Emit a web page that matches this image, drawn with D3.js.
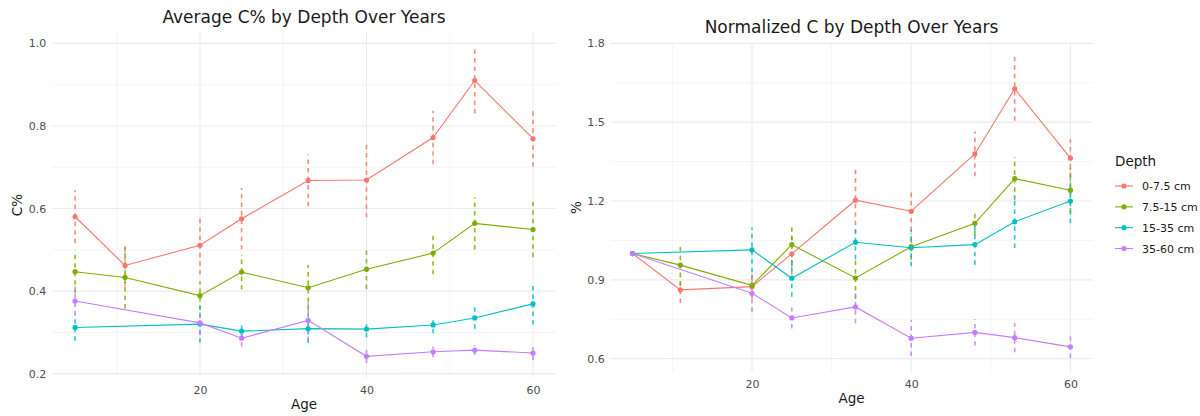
<!DOCTYPE html>
<html>
<head>
<meta charset="utf-8">
<script src="https://cdn.jsdelivr.net/npm/d3@7"></script>
<style>
  html, body { margin: 0; padding: 0; background: #fff; }
  svg { display: block; font-family: "DejaVu Sans", sans-serif; }
</style>
</head>
<body>
<svg id="chart" width="1200" height="416"></svg>
<script>
// Depth classes and their colours
const depths = ["0-7.5 cm", "7.5-15 cm", "15-35 cm", "35-60 cm"];
const depthColors = ["#F8766D", "#7CAE00", "#00BFC4", "#C77CFF"];

// Sampling ages (years); the two deeper layers were not sampled at age 11
const agesShallow = [5, 11, 20, 25, 33, 40, 48, 53, 60];
const agesDeep = [5, 20, 25, 33, 40, 48, 53, 60];

// Average C% per depth, with error (half-width of the dashed bars)
const avgC_0_7 = [0.580, 0.462, 0.511, 0.575, 0.668, 0.669, 0.772, 0.910, 0.769];
const avgErr_0_7 = [0.064, 0.050, 0.070, 0.074, 0.063, 0.090, 0.065, 0.080, 0.068];
const avgC_7_15 = [0.447, 0.433, 0.389, 0.446, 0.408, 0.453, 0.492, 0.564, 0.549];
const avgErr_7_15 = [0.052, 0.075, 0.035, 0.042, 0.055, 0.048, 0.051, 0.063, 0.067];
const avgC_15_35 = [0.312, 0.320, 0.303, 0.309, 0.308, 0.318, 0.335, 0.369];
const avgErr_15_35 = [0.032, 0.045, 0.018, 0.035, 0.020, 0.020, 0.026, 0.050];
const avgC_35_60 = [0.376, 0.323, 0.286, 0.329, 0.242, 0.253, 0.257, 0.250];
const avgErr_35_60 = [0.035, 0.030, 0.020, 0.050, 0.016, 0.013, 0.012, 0.017];

// C normalised to the first sampling, per depth
const normC_0_7 = [1.000, 0.862, 0.874, 0.999, 1.203, 1.161, 1.379, 1.627, 1.363];
const normErr_0_7 = [0, 0.050, 0.045, 0.078, 0.128, 0.075, 0.085, 0.122, 0.072];
const normC_7_15 = [1.000, 0.956, 0.879, 1.034, 0.907, 1.026, 1.115, 1.285, 1.241];
const normErr_7_15 = [0, 0.078, 0.040, 0.080, 0.080, 0.050, 0.045, 0.082, 0.085];
const normC_15_35 = [1.000, 1.014, 0.906, 1.043, 1.022, 1.034, 1.121, 1.200];
const normErr_15_35 = [0, 0.085, 0.070, 0.065, 0.070, 0.077, 0.100, 0.085];
const normC_35_60 = [1.000, 0.849, 0.755, 0.797, 0.678, 0.700, 0.680, 0.645];
const normErr_35_60 = [0, 0.070, 0.040, 0.062, 0.068, 0.050, 0.056, 0.042];

// Axis breaks
const xBreaks = [20, 40, 60];
const xMinor = [10, 30, 50];
const avgBreaks = [0.2, 0.4, 0.6, 0.8, 1.0];
const avgMinor = [0.3, 0.5, 0.7, 0.9];
const normBreaks = [0.6, 0.9, 1.2, 1.5, 1.8];
const normMinor = [0.75, 1.05, 1.35, 1.65];

function build(ageList, vals, errs) {
  return vals.map((v, i) => ({ age: ageList[i], v: v, e: errs[i] }));
}

const avgSeries = [
  build(agesShallow, avgC_0_7, avgErr_0_7),
  build(agesShallow, avgC_7_15, avgErr_7_15),
  build(agesDeep, avgC_15_35, avgErr_15_35),
  build(agesDeep, avgC_35_60, avgErr_35_60)
];
const normSeries = [
  build(agesShallow, normC_0_7, normErr_0_7),
  build(agesShallow, normC_7_15, normErr_7_15),
  build(agesDeep, normC_15_35, normErr_15_35),
  build(agesDeep, normC_35_60, normErr_35_60)
];

const svg = d3.select("#chart");
const grid = "#EBEBEB";
const tickCol = "#4D4D4D";

function panel(cfg) {
  const x = d3.scaleLinear().domain([2.25, 62.75]).range([cfg.left, cfg.right]);
  const y = d3.scaleLinear().domain(cfg.yDomain).range([cfg.bottom, cfg.top]);
  const g = svg.append("g");

  // grid lines
  const gg = g.append("g");
  gg.selectAll(".ymin").data(cfg.yMinor).join("line")
    .attr("x1", cfg.left).attr("x2", cfg.right)
    .attr("y1", d => y(d)).attr("y2", d => y(d))
    .attr("stroke", grid).attr("stroke-width", 0.55);
  gg.selectAll(".xmin").data(xMinor).join("line")
    .attr("y1", cfg.top).attr("y2", cfg.bottom)
    .attr("x1", d => x(d)).attr("x2", d => x(d))
    .attr("stroke", grid).attr("stroke-width", 0.55);
  gg.selectAll(".ymaj").data(cfg.yBreaks).join("line")
    .attr("x1", cfg.left).attr("x2", cfg.right)
    .attr("y1", d => y(d)).attr("y2", d => y(d))
    .attr("stroke", grid).attr("stroke-width", 1.1);
  gg.selectAll(".xmaj").data(xBreaks).join("line")
    .attr("y1", cfg.top).attr("y2", cfg.bottom)
    .attr("x1", d => x(d)).attr("x2", d => x(d))
    .attr("stroke", grid).attr("stroke-width", 1.1);

  // axes (labels only, as in a minimal theme)
  const xAxis = g.append("g").attr("transform", `translate(0,${cfg.bottom})`)
    .call(d3.axisBottom(x).tickValues(xBreaks).tickSize(0).tickPadding(8).tickFormat(d3.format("d")));
  const yAxis = g.append("g").attr("transform", `translate(${cfg.left},0)`)
    .call(d3.axisLeft(y).tickValues(cfg.yBreaks).tickSize(0).tickPadding(6).tickFormat(d3.format(".1f")));
  [xAxis, yAxis].forEach(a => {
    a.select(".domain").remove();
    a.selectAll("text").attr("fill", tickCol).style("font-size", "11px")
      .style("font-family", "DejaVu Sans, sans-serif");
  });

  // error bars
  cfg.series.forEach((s, i) => {
    g.append("g").selectAll("line").data(s.filter(d => d.e > 0)).join("line")
      .attr("x1", d => x(d.age)).attr("x2", d => x(d.age))
      .attr("y1", d => y(d.v - d.e)).attr("y2", d => y(d.v + d.e))
      .attr("stroke", depthColors[i]).attr("stroke-width", 1.6)
      .attr("stroke-dasharray", "4.5,4").attr("opacity", 0.85);
  });
  // lines
  const line = d3.line().x(d => x(d.age)).y(d => y(d.v));
  cfg.series.forEach((s, i) => {
    g.append("path").datum(s).attr("d", line)
      .attr("fill", "none").attr("stroke", depthColors[i]).attr("stroke-width", 1.1);
  });
  // points
  cfg.series.forEach((s, i) => {
    g.append("g").selectAll("circle").data(s).join("circle")
      .attr("cx", d => x(d.age)).attr("cy", d => y(d.v)).attr("r", 2.6)
      .attr("fill", depthColors[i]);
  });

  // titles
  g.append("text").attr("x", (cfg.left + cfg.right) / 2).attr("y", cfg.titleY)
    .attr("text-anchor", "middle").style("font-size", "17px").attr("fill", "#1a1a1a")
    .text(cfg.title);
  g.append("text").attr("x", (cfg.left + cfg.right) / 2).attr("y", cfg.xTitleY)
    .attr("text-anchor", "middle").style("font-size", "13.5px").attr("fill", "#1a1a1a")
    .text("Age");
  g.append("text")
    .attr("transform", `translate(${cfg.yTitleX},${(cfg.top + cfg.bottom) / 2}) rotate(-90)`)
    .attr("text-anchor", "middle").style("font-size", "13.5px").attr("fill", "#1a1a1a")
    .text(cfg.yTitle);
}

panel({
  left: 52.2, right: 555.9, top: 32.2, bottom: 377.8,
  yDomain: [0.19, 1.027], yBreaks: avgBreaks, yMinor: avgMinor,
  series: avgSeries, title: "Average C% by Depth Over Years",
  titleY: 23, xTitleY: 409, yTitle: "C%", yTitleX: 22
});
panel({
  left: 610.7, right: 1092.3, top: 42.8, bottom: 372.6,
  yDomain: [0.547, 1.802], yBreaks: normBreaks, yMinor: normMinor,
  series: normSeries, title: "Normalized C by Depth Over Years",
  titleY: 33, xTitleY: 403, yTitle: "%", yTitleX: 581
});

// legend
const lg = svg.append("g").attr("transform", "translate(1115,0)");
lg.append("text").attr("x", 0).attr("y", 166).style("font-size", "13.5px").attr("fill", "#1a1a1a").text("Depth");
const ly = d3.scalePoint().domain(depths).range([186, 248.5]);
depths.forEach((d, i) => {
  const yy = ly(d);
  lg.append("line").attr("x1", 0).attr("x2", 18).attr("y1", yy).attr("y2", yy)
    .attr("stroke", depthColors[i]).attr("stroke-width", 1.1);
  lg.append("circle").attr("cx", 9).attr("cy", yy).attr("r", 2.6).attr("fill", depthColors[i]);
  lg.append("text").attr("x", 27).attr("y", yy + 4).style("font-size", "11px")
    .attr("fill", "#1a1a1a").text(d);
});
</script>
</body>
</html>
